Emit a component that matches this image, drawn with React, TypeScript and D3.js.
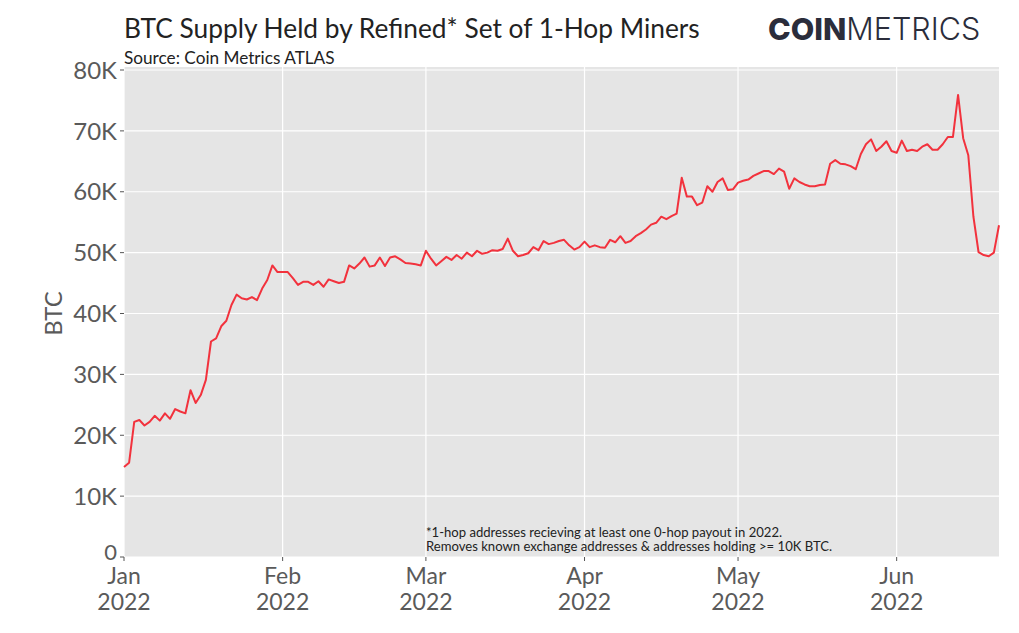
import React from 'react';
import * as d3 from 'd3';

// daily BTC held, in thousands, starting Jan 1 2022
const startDate = new Date(2022, 0, 1);
const supplyK = [
  14.8, 15.5, 22.2, 22.5, 21.6, 22.2, 23.2, 22.4, 23.6, 22.7,
  24.3, 23.9, 23.6, 27.4, 25.3, 26.6, 29.1, 35.4, 35.9, 37.9,
  38.8, 41.4, 43.1, 42.5, 42.3, 42.7, 42.2, 44.1, 45.5, 47.9,
  46.8, 46.8, 46.8, 45.8, 44.7, 45.2, 45.2, 44.7, 45.3, 44.4,
  45.6, 45.3, 45.0, 45.2, 47.9, 47.4, 48.2, 49.2, 47.7, 47.9,
  49.2, 47.8, 49.2, 49.4, 48.9, 48.3, 48.2, 48.1, 47.9, 50.3,
  49.0, 47.9, 48.6, 49.3, 48.8, 49.6, 49.0, 50.0, 49.4, 50.3,
  49.8, 50.0, 50.4, 50.3, 50.6, 52.3, 50.3, 49.4, 49.6, 49.9,
  50.9, 50.4, 51.9, 51.4, 51.6, 51.9, 52.1, 51.2, 50.5, 50.9,
  51.8, 50.9, 51.2, 50.9, 50.8, 52.1, 51.7, 52.7, 51.6, 51.9,
  52.7, 53.2, 53.8, 54.6, 54.9, 55.9, 55.5, 56.0, 56.4, 62.3,
  59.2, 59.2, 57.8, 58.2, 60.9, 60.0, 61.6, 62.2, 60.3, 60.4,
  61.5, 61.8, 62.0, 62.6, 63.0, 63.4, 63.4, 62.9, 63.8, 63.3,
  60.5, 62.2, 61.6, 61.2, 60.9, 60.9, 61.1, 61.2, 64.6, 65.2,
  64.6, 64.5, 64.2, 63.7, 66.2, 67.8, 68.6, 66.7, 67.4, 68.3,
  66.7, 66.4, 68.4, 66.7, 66.9, 66.7, 67.4, 67.8, 66.9, 66.9,
  67.8, 69.0, 69.0, 75.9, 68.8, 66.0, 55.9, 50.1, 49.6, 49.4,
  50.0, 54.5,
];
const yTicks = [0, 10, 20, 30, 40, 50, 60, 70, 80];
const yTickLabels = ['0', '10K', '20K', '30K', '40K', '50K', '60K', '70K', '80K'];
const monthTicks = [0, 1, 2, 3, 4, 5].map(m => new Date(2022, m, 1));
const monthLabels = ['Jan', 'Feb', 'Mar', 'Apr', 'May', 'Jun'];

const W = 1019;
const H = 633;
const left = 124;
const right = 999;
const top = 70;
const bottom = 557;

const font = 'Lato, "Open Sans", sans-serif';

export default function App() {
  const data = supplyK.map((v, i) => ({ date: d3.timeDay.offset(startDate, i), v }));

  const x = d3.scaleTime()
    .domain([startDate, data[data.length - 1].date])
    .range([left, right]);
  const y = d3.scaleLinear().domain([0, 80]).range([bottom, top]);

  const line = d3.line<{ date: Date; v: number }>()
    .x(d => x(d.date))
    .y(d => y(d.v));

  return (
    <svg width={W} height={H} style={{ position: 'absolute', left: 0, top: 0, background: '#fff' }}>
      {/* panel */}
      <rect x={left} y={top - 3} width={right - left} height={bottom - top + 3} fill="#e5e5e5" />
      {yTicks.map(t => (
        <line key={t} x1={left} x2={right} y1={y(t)} y2={y(t)} stroke="#fff" strokeWidth={1.2} />
      ))}
      {monthTicks.map((d, i) => (
        <line key={i} x1={x(d)} x2={x(d)} y1={top - 3} y2={bottom} stroke="#fff" strokeWidth={1.2} />
      ))}

      <path d={line(data) ?? ''} fill="none" stroke="#f2323d" strokeWidth={2} strokeLinejoin="round" />

      {/* y axis */}
      {yTicks.map((t, i) => (
        <g key={t}>
          <line x1={left - 4} x2={left} y1={y(t)} y2={y(t)} stroke="#555" strokeWidth={1} />
          <text x={left - 7} y={t === 0 ? y(t) - 5 : y(t)} dy="0.36em" textAnchor="end" fontFamily={font}
            fontSize={t === 0 ? 22 : 24} fill="#5a5a5a">{yTickLabels[i]}</text>
        </g>
      ))}
      <text transform={`translate(62,${(top + bottom) / 2}) rotate(-90)`} textAnchor="middle"
        fontFamily={font} fontSize={24} fill="#5a5a5a">BTC</text>

      {/* x axis */}
      {monthTicks.map((d, i) => (
        <g key={i}>
          <line x1={x(d)} x2={x(d)} y1={bottom} y2={bottom + 4} stroke="#555" strokeWidth={1} />
          <text x={x(d)} y={584} textAnchor="middle" fontFamily={font} fontSize={23} fill="#5a5a5a">
            {monthLabels[i]}
          </text>
          <text x={x(d)} y={610} textAnchor="middle" fontFamily={font} fontSize={23} fill="#5a5a5a">
            2022
          </text>
        </g>
      ))}

      {/* footnote */}
      <text x={426} y={537} fontFamily={font} fontSize={13.1} fill="#222">
        *1-hop addresses recieving at least one 0-hop payout in 2022.
      </text>
      <text x={426} y={551} fontFamily={font} fontSize={13.1} fill="#222">
        Removes known exchange addresses &amp; addresses holding &gt;= 10K BTC.
      </text>

      {/* titles */}
      <text x={124} y={38} fontFamily={font} fontSize={26.3} fill="#222">
        BTC Supply Held by Refined* Set of 1-Hop Miners
      </text>
      <text x={124} y={64} fontFamily={font} fontSize={17.2} fill="#222">Source: Coin Metrics ATLAS</text>

      {/* logo */}
      <text x={768} y={40} fontFamily="Inter, Lato, sans-serif" fontSize={30.5} fill="#2b2d3b">
        <tspan fontWeight={800}>COIN</tspan>
        <tspan fontWeight={300}>METRICS</tspan>
      </text>
    </svg>
  );
}
